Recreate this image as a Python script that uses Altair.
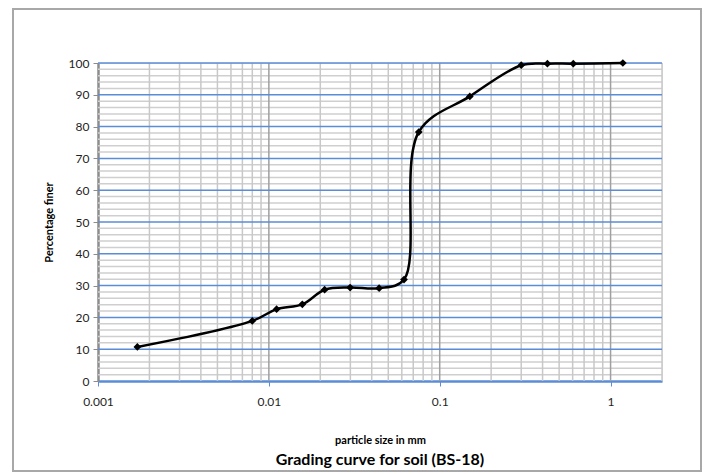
import altair as alt
import pandas as pd

# Particle size (mm) and percentage finer
size_mm = [0.0017, 0.008, 0.0111, 0.0157, 0.0212, 0.0299, 0.0442, 0.0618,
           0.0754, 0.150, 0.300, 0.427, 0.605, 1.18]
pct_finer = [10.7, 18.9, 22.6, 24.1, 28.7, 29.4, 29.2, 31.9,
             78.3, 89.5, 99.3, 99.8, 99.8, 100.0]

x_ticks = [0.001, 0.01, 0.1, 1]
y_ticks = list(range(0, 101, 10))

# gridline positions
minor_x = [m * 10 ** e for e in (-3, -2, -1, 0) for m in range(2, 10) if m * 10 ** e <= 2]
decade_x = [0.01, 0.1, 1]
minor_y = [v for v in range(0, 101, 2) if v % 10]
major_y = [v for v in y_ticks if v > 0]

FONT = "Lato"
BLUE = "#5b8dd6"

df = pd.DataFrame({"size": size_mm, "pct": pct_finer})

xscale = alt.Scale(type="log", domain=[0.001, 2], nice=False)
yscale = alt.Scale(domain=[0, 100], nice=False)

x_axis = alt.Axis(values=x_ticks, format="~g", grid=False,
                  title="particle size in mm", titleFont=FONT,
                  titleFontSize=11, titleFontWeight="bold",
                  titleColor="#000000", titlePadding=27,
                  labelFont=FONT, labelFontSize=12, labelColor="#1f1f1f",
                  labelPadding=10, labelFlush=False,
                  domainColor=BLUE, domainWidth=2.5,
                  tickColor=BLUE, tickWidth=1, tickSize=5)
y_axis = alt.Axis(values=y_ticks, grid=False,
                  title="Percentage finer", titleFont=FONT,
                  titleFontSize=11, titleFontWeight="bold",
                  titleColor="#000000", titlePadding=14,
                  labelFont=FONT, labelFontSize=12, labelColor="#1f1f1f",
                  labelPadding=4,
                  domainColor="#8c8c8c", domainWidth=2.5,
                  tickColor="#8c8c8c", tickWidth=1, tickSize=5)


def xe():
    return alt.X("size:Q", scale=xscale, axis=x_axis)


def ye():
    return alt.Y("pct:Q", scale=yscale, axis=y_axis)


grid_minor_y = alt.Chart(pd.DataFrame({"pct": minor_y})).mark_rule(
    color="#cfcfcf", strokeWidth=1.5).encode(y=ye())
grid_minor_x = alt.Chart(pd.DataFrame({"size": minor_x})).mark_rule(
    color="#c8c8c8", strokeWidth=1.5).encode(x=xe())
grid_decade_x = alt.Chart(pd.DataFrame({"size": decade_x})).mark_rule(
    color="#a0a0a0", strokeWidth=1.5).encode(x=xe())
grid_major_y = alt.Chart(pd.DataFrame({"pct": major_y})).mark_rule(
    color=BLUE, strokeWidth=1.5).encode(y=ye())

line = alt.Chart(df).mark_line(interpolate="catmull-rom", color="black",
                               strokeWidth=2.5).encode(x=xe(), y=ye())
points = alt.Chart(df).mark_point(shape="diamond", filled=True, size=60,
                                  color="black", opacity=1).encode(x=xe(), y=ye())

frame = alt.Chart(pd.DataFrame({"k": [0]})).mark_rect(
    fill="transparent", stroke="#a8a8a8", strokeWidth=2, clip=False).encode(
    x=alt.value(-85), x2=alt.value(603), y=alt.value(-54), y2=alt.value(408))

chart = alt.layer(
    grid_minor_y, grid_minor_x, grid_decade_x, grid_major_y, line, points, frame
).properties(
    width=564, height=318,
    padding={"left": 90, "top": 55, "right": 40, "bottom": 92},
    autosize=alt.AutoSizeParams(type="none"),
    title=alt.TitleParams("Grading curve for soil (BS-18)", orient="bottom",
                          font=FONT, fontSize=16, fontWeight="bold",
                          color="#000000", offset=-20, anchor="middle"),
).configure_view(stroke=None).configure(background="white")

chart.save("out.html", embed_options={"renderer": "svg", "actions": False})
